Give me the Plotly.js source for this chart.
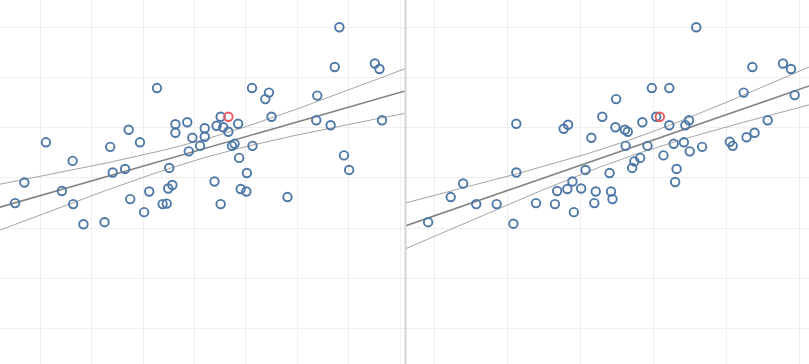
<!DOCTYPE html>
<html>
<head>
<meta charset="utf-8">
<script src="https://cdn.plot.ly/plotly-3.0.1.min.js"></script>
<style>html,body{margin:0;padding:0;background:#fff;}#chart{width:809px;height:364px;}</style>
</head>
<body>
<div id="chart"></div>
<script>
// Left panel (x variable A)
const leftX = [6.82,6.73,7.51,7.60,3.27,5.12,5.45,5.38,6.39,4.51,5.50,6.37,7.65,6.65,3.63,3.86,3.63,4.43,4.56,4.66,4.85,4.20,4.20,3.96,2.72,2.94,1.11,2.36,4.11,3.89,4.73,4.78,5.13,4.87,1.63,2.41,2.65,3.51,5.02,6.91,7.01,0.69,3.57,4.39,0.51,1.42,1.64,1.84,2.25,2.75,3.12,3.02,3.49,3.38,3.46,4.51,4.90,5.01,5.81];
const leftY = [6.00,5.21,5.28,5.17,4.79,4.79,4.70,4.57,4.64,4.22,4.22,4.15,4.15,4.05,4.07,4.11,3.90,4.04,4.01,3.92,4.08,3.99,3.82,3.80,3.96,3.71,3.71,3.62,3.64,3.53,3.64,3.68,3.64,3.40,3.34,3.11,3.18,3.20,3.10,3.45,3.16,2.91,2.86,2.93,2.50,2.74,2.48,2.08,2.12,2.58,2.73,2.32,2.79,2.48,2.49,2.48,2.78,2.73,2.62];
const leftHiX = [4.66];
const leftHiY = [4.22];

// Right panel (x variable B)
const rightX = [4.59,5.36,5.78,5.89,3.98,4.22,3.49,5.24,5.94,3.30,4.04,4.49,4.44,5.57,5.39,5.28,2.12,2.77,2.83,3.85,4.22,3.48,3.61,3.65,3.15,3.62,3.92,4.28,4.42,4.67,5.05,5.09,4.50,4.14,3.82,3.74,3.71,4.32,3.40,3.07,2.12,4.30,2.89,1.39,1.22,0.91,1.57,1.85,2.08,2.39,2.65,2.68,2.82,3.01,2.91,3.19,3.21,3.42,3.44];
const rightY = [6.00,5.21,5.28,5.17,4.79,4.79,4.57,4.70,4.65,4.22,4.22,4.15,4.05,4.15,3.90,3.81,4.08,3.98,4.06,4.11,4.05,4.01,3.96,3.92,3.80,3.64,3.64,3.68,3.71,3.62,3.72,3.64,3.53,3.45,3.40,3.33,3.20,3.18,3.10,3.16,3.11,2.92,2.93,2.89,2.62,2.12,2.48,2.48,2.09,2.50,2.48,2.74,2.78,2.79,2.32,2.50,2.73,2.73,2.58];
const rightHiX = [4.09];
const rightHiY = [4.22];

const BLUE = '#4e78a8';
const RED = '#e8595b';

function fit(xs, ys, x0, x1) {
  const n = xs.length;
  const mx = xs.reduce((a,b)=>a+b,0)/n;
  const my = ys.reduce((a,b)=>a+b,0)/n;
  let sxx=0, sxy=0;
  for (let i=0;i<n;i++){ sxx+=(xs[i]-mx)**2; sxy+=(xs[i]-mx)*(ys[i]-my); }
  const b = sxy/sxx, a = my - b*mx;
  let sse=0;
  for (let i=0;i<n;i++){ sse+=(ys[i]-a-b*xs[i])**2; }
  const s = Math.sqrt(sse/(n-2));
  const t = 2.0;
  const gx=[], gy=[], up=[], lo=[];
  const steps=120;
  for (let k=0;k<=steps;k++){
    const x = x0 + (x1-x0)*k/steps;
    const y = a + b*x;
    const se = s*Math.sqrt(1/n + (x-mx)**2/sxx);
    gx.push(x); gy.push(y); up.push(y+t*se); lo.push(y-t*se);
  }
  return {gx, gy, up, lo};
}

const LR = [0.216, 8.097];
const RR = [0.606, 6.137];
const YR = [-0.703, 6.543];

const fl = fit(leftX.concat(leftHiX), leftY.concat(leftHiY), LR[0], LR[1]);
const fr = fit(rightX.concat(rightHiX), rightY.concat(rightHiY), RR[0], RR[1]);

function lineTraces(f, xa) {
  const band = {color:'rgba(120,120,120,0.75)', width:0.9};
  return [
    {x:f.gx, y:f.up, mode:'lines', line:band, xaxis:xa, yaxis:'y', hoverinfo:'skip'},
    {x:f.gx, y:f.lo, mode:'lines', line:band, xaxis:xa, yaxis:'y', hoverinfo:'skip'},
    {x:f.gx, y:f.gy, mode:'lines', line:{color:'rgba(110,110,110,0.85)', width:1.6}, xaxis:xa, yaxis:'y', hoverinfo:'skip'}
  ];
}

const mk = (c)=>({symbol:'circle-open', size:8.5, color:c, line:{width:1.9, color:c}});

const data = [
  ...lineTraces(fl,'x'),
  {x:leftX, y:leftY, mode:'markers', marker:mk(BLUE), xaxis:'x', yaxis:'y'},
  {x:leftHiX, y:leftHiY, mode:'markers', marker:mk(RED), xaxis:'x', yaxis:'y'},
  ...lineTraces(fr,'x2'),
  {x:rightX, y:rightY, mode:'markers', marker:mk(BLUE), xaxis:'x2', yaxis:'y'},
  {x:rightHiX, y:rightHiY, mode:'markers', marker:mk(RED), xaxis:'x2', yaxis:'y'}
];

const ax = (dom, rng)=>({domain:dom, range:rng, dtick:1, tick0:0, showgrid:true, gridcolor:'#efefef', gridwidth:1,
  zeroline:false, showticklabels:false, ticks:'', showline:false, fixedrange:true});

const layout = {
  width:809, height:364,
  margin:{l:0,r:0,t:0,b:0,pad:0},
  paper_bgcolor:'#ffffff', plot_bgcolor:'#ffffff',
  showlegend:false,
  xaxis: ax([0, 405/809], LR),
  xaxis2: Object.assign(ax([406/809, 1], RR), {anchor:'y'}),
  yaxis: ax([0,1], YR),
  shapes:[{type:'line', xref:'paper', yref:'paper', x0:405.5/809, x1:405.5/809, y0:0, y1:1,
    line:{color:'#d4d4d4', width:2}}]
};

Plotly.newPlot('chart', data, layout, {displayModeBar:false, staticPlot:true});
</script>
</body>
</html>
